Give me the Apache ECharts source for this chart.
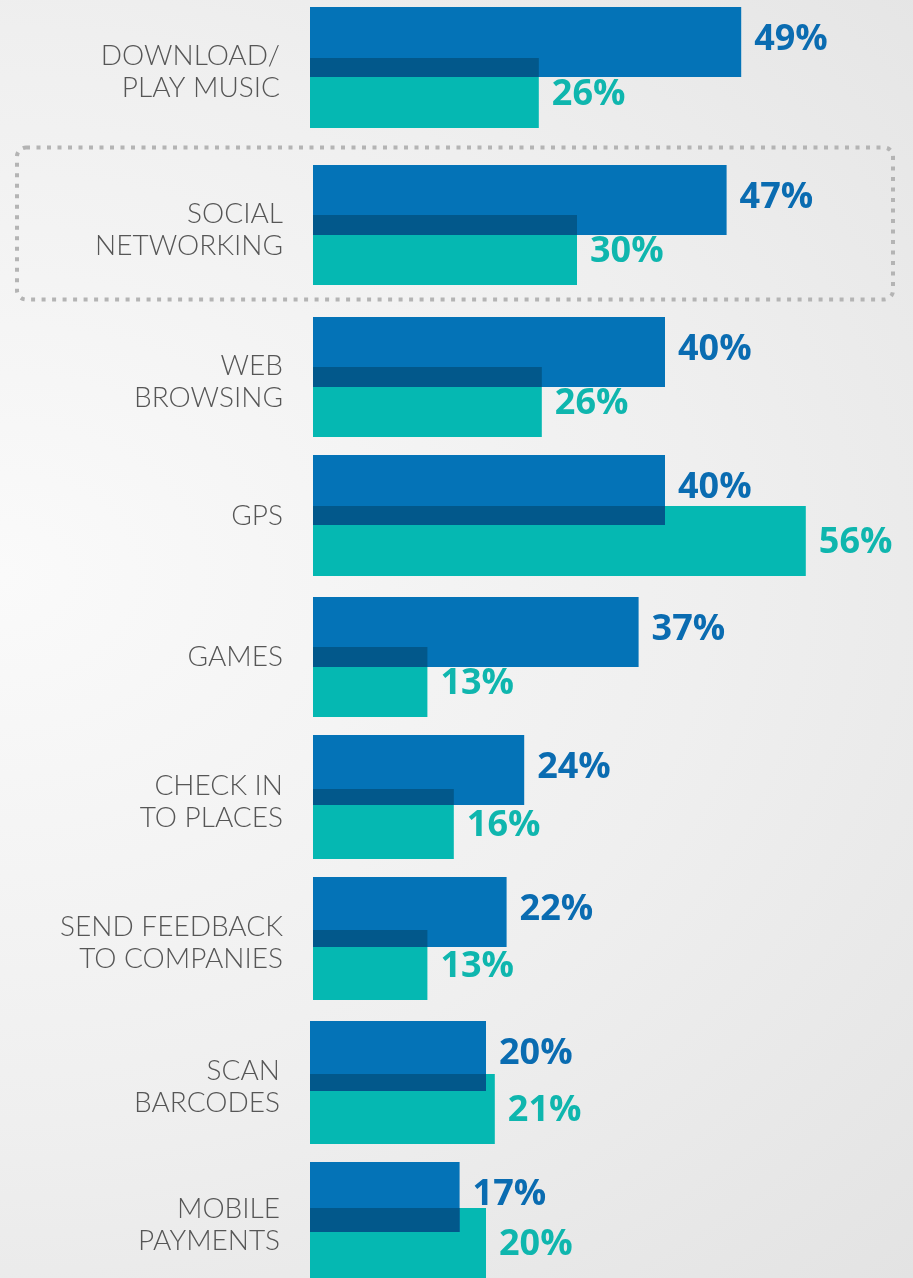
<!DOCTYPE html>
<html>
<head>
<meta charset="utf-8">
<script src="https://cdn.jsdelivr.net/npm/echarts@6/dist/echarts.min.js"></script>
<style>
  html, body { margin: 0; padding: 0; }
  #chart {
    width: 913px;
    height: 1278px;
    background: radial-gradient(ellipse at 0% 45%, #fafafa 0%, #efefef 55%, #e3e3e3 100%);
  }
</style>
</head>
<body>
<div id="chart"></div>
<script>
// data
var categories = [
  'DOWNLOAD/\nPLAY MUSIC',
  'SOCIAL\nNETWORKING',
  'WEB\nBROWSING',
  'GPS',
  'GAMES',
  'CHECK IN\nTO PLACES',
  'SEND FEEDBACK\nTO COMPANIES',
  'SCAN\nBARCODES',
  'MOBILE\nPAYMENTS'
];
var blueShare = [49, 47, 40, 40, 37, 24, 22, 20, 17];
var tealShare = [26, 30, 26, 56, 13, 16, 13, 21, 20];

// layout of each row (the rows are not evenly spaced in the original)
var rowTop = [7, 165, 317, 455, 597, 735, 877, 1021, 1162];
var rowLeft = [310, 313, 313, 313, 313, 313, 313, 310, 310];
var tealShift = [51, 50, 50, 51, 50, 54, 53, 53, 53];

var BAR_H = 70;
var X_MAX = 60;
var PX_PER_PCT = 8.8;

var BLUE = '#0473b7';
var TEAL = '#05b8b2';
var DARK = '#02588b';
var BLUE_TXT = '#0a6cb1';
var TEAL_TXT = '#0fb6ae';

function renderRow(params, api) {
  var blue = api.value(0);
  var teal = api.value(1);
  var base = api.coord([0, 0]);
  var band = api.size([0, 1])[1];
  var top = base[1] - band / 2;
  var x0 = base[0];
  var xb = api.coord([blue, 0])[0];
  var xt = api.coord([teal, 0])[0];
  var xo = api.coord([Math.min(blue, teal), 0])[0];
  var tealTop = top + band - BAR_H;
  var valueFont = {
    fontFamily: '"Open Sans", sans-serif',
    fontWeight: 'bold',
    fontSize: 36,
    align: 'left',
    verticalAlign: 'middle'
  };
  return {
    type: 'group',
    children: [
      { type: 'rect', shape: { x: x0, y: tealTop, width: xt - x0, height: BAR_H }, style: { fill: TEAL } },
      { type: 'rect', shape: { x: x0, y: top, width: xb - x0, height: BAR_H }, style: { fill: BLUE } },
      { type: 'rect', shape: { x: x0, y: tealTop, width: xo - x0, height: top + BAR_H - tealTop }, style: { fill: DARK } },
      { type: 'text', style: Object.assign({ text: blue + '%', x: xb + 13, y: top + BAR_H / 2 - 2, fill: BLUE_TXT }, valueFont) },
      { type: 'text', style: Object.assign({ text: teal + '%', x: xt + 13, y: tealTop + BAR_H / 2 + 2, fill: TEAL_TXT }, valueFont) }
    ]
  };
}

// two-line labels sit a little below the row centre: push them down with a thin spacer line
function catLabel(value) {
  return value.indexOf('\n') > 0 ? '{s| }\n' + value : value;
}

var grids = [], xAxes = [], yAxes = [], series = [];
categories.forEach(function (cat, i) {
  grids.push({
    left: rowLeft[i],
    top: rowTop[i],
    width: X_MAX * PX_PER_PCT,
    height: BAR_H + tealShift[i]
  });
  xAxes.push({ gridIndex: i, type: 'value', min: 0, max: X_MAX, show: false });
  yAxes.push({
    gridIndex: i,
    type: 'category',
    data: [cat],
    axisLine: { show: false },
    axisTick: { show: false },
    splitLine: { show: false },
    axisLabel: {
      margin: 30,
      color: '#565656',
      fontFamily: 'Lato, sans-serif',
      fontWeight: 300,
      fontSize: 28,
      lineHeight: 32,
      formatter: catLabel,
      rich: { s: { fontSize: 1, lineHeight: 9 } }
    }
  });
  series.push({
    type: 'custom',
    xAxisIndex: i,
    yAxisIndex: i,
    renderItem: renderRow,
    encode: { x: [0, 1], y: 2 },
    data: [[blueShare[i], tealShare[i], 0]]
  });
});

var chart = echarts.init(document.getElementById('chart'));
chart.setOption({
  animation: false,
  grid: grids,
  xAxis: xAxes,
  yAxis: yAxes,
  series: series,
  graphic: [
    {
      type: 'rect',
      z: -1,
      shape: { x: 17, y: 147.5, width: 876, height: 152, r: 9 },
      style: { fill: 'none', stroke: '#b4b4b4', lineWidth: 4, lineDash: [4, 6.5] }
    }
  ]
});
</script>
</body>
</html>
